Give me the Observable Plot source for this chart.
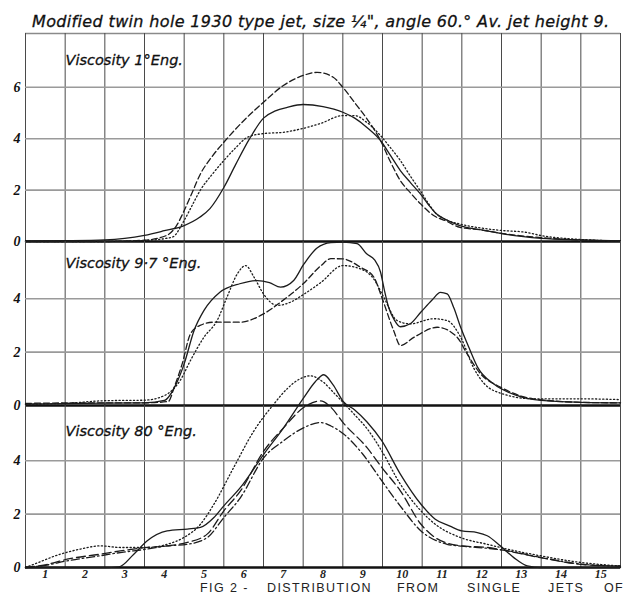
<!DOCTYPE html>
<html>
<head>
<meta charset="utf-8">
<script src="https://cdn.jsdelivr.net/npm/d3@7"></script>
<script src="https://cdn.jsdelivr.net/npm/@observablehq/plot@0.6"></script>
<style>
  html, body { margin: 0; padding: 0; background: #fff; }
  body { width: 623px; height: 594px; overflow: hidden; position: relative; }
  #title {
    position: absolute; left: 32px; top: 12px; white-space: nowrap;
    font: italic 16px "DejaVu Sans", sans-serif; letter-spacing: 0.35px; color: #111;
    -webkit-text-stroke: 0.3px #111;
  }
  .panel { position: absolute; left: 0; }
  .panel svg { overflow: visible; background: transparent; }
  #caption { position: absolute; top: 582px; left: 0; width: 623px; height: 12px;
    font: 12.5px/12px "Liberation Sans", sans-serif; color: #222; }
  #caption span { position: absolute; top: 0; letter-spacing: 1.4px; white-space: nowrap; }
</style>
</head>
<body>
<div id="title">Modified twin hole 1930 type jet, size ¼", angle 60.° Av. jet height 9.</div>
<div id="p1" class="panel"></div>
<div id="p2" class="panel"></div>
<div id="p3" class="panel"></div>
<div id="caption"></div>
<script>
// Jet number along the bottom; columns are centred on these
const xTicks = [1, 2, 3, 4, 5, 6, 7, 8, 9, 10, 11, 12, 13, 14, 15];
const yTicks = [0, 2, 4, 6];

// Viscosity 1 °Eng — [jet, quantity]
const eng1Solid = [[0.5,0.02],[1.5,0.03],[2.5,0.06],[3,0.12],[3.5,0.24],[4,0.42],[4.5,0.62],[4.9,0.95],[5.15,1.28],[5.5,2.1],[5.8,3.0],[6.15,4.0],[6.5,4.8],[6.8,5.08],[7.1,5.22],[7.5,5.33],[8.0,5.25],[8.5,5.03],[8.8,4.8],[9.1,4.45],[9.45,3.93],[9.7,3.35],[9.95,2.76],[10.2,2.3],[10.45,1.86],[10.65,1.45],[10.85,1.09],[11.1,0.85],[11.45,0.62],[12,0.45],[12.5,0.31],[13,0.2],[13.5,0.12],[14.5,0.06],[15.5,0.02]];
const eng1Dashed = [[0.5,0],[2.5,0],[3.5,0.05],[4.05,0.23],[4.3,0.6],[4.5,1.2],[4.7,1.9],[4.9,2.6],[5.2,3.3],[5.5,3.86],[6.0,4.7],[6.5,5.42],[7.0,6.07],[7.5,6.46],[7.85,6.58],[8.25,6.4],[8.5,6.0],[8.8,5.4],[9.1,4.79],[9.45,3.93],[9.7,3.1],[9.95,2.37],[10.2,1.9],[10.45,1.48],[10.8,1.0],[11.1,0.8],[11.45,0.55],[12,0.45],[12.5,0.32],[13,0.22],[13.5,0.15],[14.5,0.06],[15.5,0.02]];
const eng1Dotted = [[0.5,0],[2.5,0],[3.5,0.04],[4.2,0.17],[4.5,0.82],[4.7,1.4],[4.9,1.98],[5.2,2.6],[5.5,3.15],[5.8,3.65],[6.1,4.06],[6.5,4.2],[7.0,4.25],[7.5,4.4],[7.95,4.6],[8.5,4.9],[8.8,4.9],[9.1,4.64],[9.45,4.12],[9.7,3.65],[9.95,3.15],[10.2,2.55],[10.45,1.98],[10.65,1.5],[10.85,1.09],[11.1,0.85],[11.45,0.68],[12,0.52],[12.5,0.43],[13.1,0.36],[13.5,0.23],[14.5,0.08],[15.5,0.02]];

// Viscosity 9·7 °Eng
const eng97Solid = [[0.5,0.05],[2,0.08],[3.5,0.1],[4.0,0.19],[4.3,0.81],[4.5,1.56],[4.75,2.81],[5.0,3.56],[5.4,4.24],[5.9,4.56],[6.35,4.68],[6.65,4.6],[6.93,4.43],[7.1,4.5],[7.26,4.68],[7.52,5.3],[7.85,5.9],[8.2,6.1],[8.5,6.12],[8.86,6.06],[9.1,5.68],[9.3,5.45],[9.45,5.0],[9.55,4.3],[9.65,3.7],[9.8,3.2],[9.95,2.95],[10.2,3.06],[10.47,3.5],[10.75,3.95],[10.96,4.24],[11.13,4.18],[11.3,3.65],[11.47,2.93],[11.7,2.1],[11.9,1.43],[12.3,0.81],[12.9,0.37],[13.5,0.19],[14.5,0.12],[15.5,0.1]];
const eng97Dashed = [[0.5,0.08],[2,0.1],[3.5,0.1],[4.1,0.15],[4.25,0.69],[4.45,1.56],[4.66,2.69],[4.9,3.0],[5.25,3.12],[5.9,3.12],[6.5,3.43],[6.93,3.87],[7.5,4.56],[7.95,5.24],[8.2,5.5],[8.5,5.49],[8.94,5.18],[9.28,4.81],[9.48,4.06],[9.78,2.81],[9.95,2.25],[10.3,2.56],[10.88,2.93],[11.38,2.56],[11.63,1.94],[11.97,1.19],[12.47,0.69],[13.3,0.25],[14.5,0.12],[15.5,0.1]];
const eng97Dotted = [[0.5,0.05],[1.5,0.08],[2.5,0.18],[3.5,0.2],[4.0,0.37],[4.4,0.94],[4.66,1.69],[5.0,2.56],[5.33,3.18],[5.58,4.06],[5.84,4.93],[6.05,5.24],[6.26,4.81],[6.5,4.18],[6.84,3.75],[7.18,3.87],[7.5,4.15],[7.94,4.6],[8.5,5.24],[8.94,5.12],[9.28,4.74],[9.53,4.06],[9.87,3.18],[10.2,3.06],[10.79,3.25],[11.13,3.18],[11.47,2.56],[11.8,1.4],[12.3,0.56],[13.3,0.25],[14.5,0.25],[15.5,0.22]];

// Viscosity 80 °Eng
const eng80Solid = [[0.5,0],[2.5,0],[2.85,0.02],[3.23,0.5],[3.57,1.0],[4.07,1.37],[4.58,1.44],[4.91,1.5],[5.25,1.87],[5.5,2.31],[5.92,3.0],[6.51,4.25],[7.01,5.24],[7.52,6.37],[7.8,6.95],[8.02,7.22],[8.25,6.85],[8.52,6.2],[8.8,5.9],[9.11,5.45],[9.48,4.75],[9.95,3.5],[10.47,2.37],[10.83,1.81],[11.2,1.55],[11.5,1.37],[11.89,1.31],[12.14,1.19],[12.47,0.81],[12.81,0.37],[13.15,0.06],[13.5,0],[15.5,0]];
const eng80Dotted = [[0.5,0],[0.71,0.12],[1.38,0.5],[1.89,0.69],[2.39,0.81],[2.89,0.75],[3.57,0.75],[4.07,0.87],[4.49,1.12],[4.91,1.62],[5.25,2.37],[5.75,3.75],[6.26,5.12],[6.76,6.12],[7.1,6.7],[7.4,7.05],[7.68,7.18],[8.0,6.95],[8.3,6.5],[8.78,5.75],[9.11,5.2],[9.48,4.37],[9.95,3.12],[10.47,2.12],[10.83,1.62],[11.47,1.12],[12.14,0.87],[12.64,0.69],[13.48,0.44],[14.49,0.19],[15.5,0.06]];
const eng80Dashed = [[0.5,0],[1.0,0.1],[1.55,0.31],[2.39,0.5],[2.89,0.62],[3.57,0.75],[4.07,0.81],[4.58,0.94],[5.08,1.25],[5.5,2.12],[5.92,2.87],[6.51,4.37],[7.01,5.24],[7.52,6.0],[7.94,6.24],[8.2,6.0],[8.52,5.4],[9.11,4.49],[9.48,3.75],[9.95,2.87],[10.47,1.62],[10.83,1.12],[11.47,0.81],[12.14,0.75],[12.64,0.62],[13.48,0.37],[14.49,0.12],[15.5,0.05]];
const eng80DashDot = [[0.5,0],[1.0,0.08],[1.55,0.25],[2.39,0.44],[2.89,0.56],[3.57,0.69],[4.07,0.81],[4.58,0.87],[5.08,1.12],[5.5,1.87],[5.92,2.62],[6.51,4.12],[7.01,4.75],[7.52,5.24],[7.94,5.43],[8.2,5.3],[8.52,5.0],[9.0,4.25],[9.48,3.25],[9.95,2.3],[10.47,1.37],[11.13,0.87],[11.5,0.8],[12.14,0.72],[12.64,0.63],[13.48,0.38],[14.49,0.13],[15.5,0.05]];

const panelLabels = ["Viscosity 1°Eng.", "Viscosity 9·7 °Eng.", "Viscosity 80 °Eng."];
const captionWords = ["FIG 2 -", "DISTRIBUTION", "FROM", "SINGLE", "JETS", "OF"];

// line styles
const SOLID = null, DASHED = "6,3", DOTTED = "1.2,2.4", LONGDASH = "9,4", DASHDOT = "8,3,1.5,3";

// column boundaries sit half way between jet numbers
const xGrid = xTicks.map(d => d - 0.5).concat(xTicks[xTicks.length - 1] + 0.5);

function curve(data, dash) {
  return Plot.line(data, {
    x: d => d[0], y: d => d[1],
    stroke: "#1c1c1c", strokeWidth: 1.3,
    strokeDasharray: dash, curve: "monotone-x", clip: false
  });
}

function panel({el, top, height, ppu, series, label, labelDy, xAxis, topBorder}) {
  const yMax = height / ppu;
  const bottom = xAxis ? 18 : 0;
  const marks = [
    Plot.ruleX(xGrid, {stroke: "#4a4a4a", strokeWidth: 1}),
    Plot.ruleY(yTicks.filter(t => t > 0 && t < yMax - 0.5), {stroke: "#9a9a9a", strokeWidth: 1.6}),
    Plot.ruleY([0], {stroke: "#111", strokeWidth: 2.4}),
    Plot.axisY(yTicks.filter(t => t < yMax - 0.5), {
      tickSize: 0, tickPadding: 5, fontSize: 14, fontStyle: "italic", fontWeight: "bold",
      fontFamily: "Liberation Serif, serif", fill: "#111", label: null
    }),
    Plot.text([label], {
      frameAnchor: "top-left", dx: 40, dy: labelDy, text: d => d,
      fontSize: 14.5, fontStyle: "italic", fontFamily: "DejaVu Sans, sans-serif",
      fill: "#111", stroke: "#111", strokeWidth: 0.3,
      textAnchor: "start", lineAnchor: "middle"
    }),
    ...series.map(([data, dash]) => curve(data, dash))
  ];
  if (topBorder) marks.unshift(Plot.ruleY([yMax], {stroke: "#8a8a8a", strokeWidth: 1.6}));
  if (xAxis) marks.push(Plot.axisX(xTicks, {
    tickSize: 0, tickPadding: 2, fontSize: 12, fontStyle: "italic", fontWeight: "bold",
    fontFamily: "Liberation Serif, serif", fill: "#222", label: null
  }));
  else marks.push(Plot.axisX([], {label: null}));

  const svg = Plot.plot({
    width: 623, height: height + bottom,
    marginLeft: 25, marginRight: 3, marginTop: 0, marginBottom: bottom,
    x: {domain: [0.5, 15.5]},
    y: {domain: [0, yMax]},
    style: {background: "transparent", overflow: "visible"},
    marks
  });
  el.style.top = top + "px";
  el.appendChild(svg);
}

panel({el: document.getElementById("p1"), top: 33, height: 208, ppu: 25.7,
  series: [[eng1Solid, SOLID], [eng1Dashed, DASHED], [eng1Dotted, DOTTED]],
  label: panelLabels[0], labelDy: 27, xAxis: false, topBorder: true});
panel({el: document.getElementById("p2"), top: 241, height: 164, ppu: 26.7,
  series: [[eng97Solid, SOLID], [eng97Dashed, DASHED], [eng97Dotted, DOTTED]],
  label: panelLabels[1], labelDy: 22, xAxis: false, topBorder: false});
panel({el: document.getElementById("p3"), top: 405, height: 162, ppu: 26.7,
  series: [[eng80Solid, SOLID], [eng80Dotted, DOTTED], [eng80Dashed, LONGDASH], [eng80DashDot, DASHDOT]],
  label: panelLabels[2], labelDy: 26, xAxis: true, topBorder: false});

// caption words, spread across the lower edge
const cap = document.getElementById("caption");
const capLeft = [200, 267, 397, 467, 548, 604];
captionWords.forEach((w, i) => {
  const s = document.createElement("span");
  s.textContent = w;
  s.style.left = capLeft[i] + "px";
  cap.appendChild(s);
});
</script>
</body>
</html>
